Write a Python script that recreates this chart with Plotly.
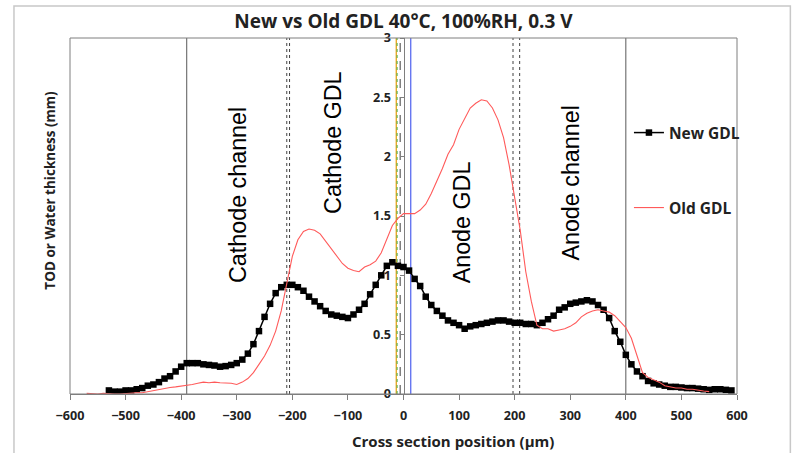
import plotly.graph_objects as go

# ---- data ----
new_x = list(range(-530, 600, 10))
new_y = [0.03, 0.02, 0.02, 0.03, 0.03, 0.04, 0.05, 0.07, 0.08, 0.10,
         0.13, 0.15, 0.19, 0.23, 0.26, 0.26, 0.26, 0.25, 0.245, 0.24,
         0.23, 0.235, 0.245, 0.26, 0.29, 0.34, 0.42, 0.53, 0.65, 0.76,
         0.85, 0.90, 0.92, 0.92, 0.90, 0.87, 0.82, 0.78, 0.74, 0.70,
         0.67, 0.66, 0.65, 0.64, 0.67, 0.71, 0.76, 0.84, 0.92, 1.00,
         1.08, 1.11, 1.08, 1.07, 1.04, 0.97, 0.91, 0.82, 0.75, 0.70,
         0.66, 0.62, 0.60, 0.58, 0.55, 0.57, 0.58, 0.59, 0.60, 0.61,
         0.62, 0.62, 0.61, 0.60, 0.60, 0.59, 0.59, 0.58, 0.60, 0.63,
         0.66, 0.71, 0.73, 0.76, 0.77, 0.78, 0.79, 0.78, 0.75, 0.71,
         0.64, 0.53, 0.44, 0.33, 0.25, 0.19, 0.15, 0.11, 0.09, 0.08,
         0.07, 0.06, 0.06, 0.055, 0.05, 0.05, 0.045, 0.04, 0.035, 0.04,
         0.04, 0.035, 0.03]

old_x = list(range(-570, 560, 10))
old_y = [0.005, 0.0, 0.0, 0.005, 0.0, 0.0, 0.0, 0.005, 0.005, 0.01,
         0.01, 0.02, 0.03, 0.04, 0.05, 0.055, 0.06, 0.065, 0.07, 0.08,
         0.09, 0.10, 0.095, 0.10, 0.095, 0.095, 0.09, 0.08, 0.10, 0.13,
         0.18, 0.25, 0.32, 0.41, 0.53, 0.70, 0.92, 1.16, 1.30, 1.37,
         1.39, 1.38, 1.35, 1.29, 1.23, 1.16, 1.10, 1.06, 1.04, 1.03,
         1.07, 1.09, 1.12, 1.19, 1.30, 1.42, 1.48, 1.52, 1.52, 1.52,
         1.55, 1.60, 1.69, 1.79, 1.90, 2.02, 2.10, 2.23, 2.32, 2.41,
         2.45, 2.48, 2.47, 2.41, 2.31, 2.16, 1.93, 1.65, 1.38, 1.03,
         0.78, 0.58, 0.55, 0.55, 0.53, 0.54, 0.55, 0.57, 0.60, 0.65,
         0.68, 0.70, 0.71, 0.70, 0.69, 0.66, 0.61, 0.56, 0.47, 0.32,
         0.18, 0.14, 0.12, 0.10, 0.07, 0.06, 0.05, 0.05, 0.04, 0.04,
         0.03, 0.025, 0.02]

x_ticks = list(range(-600, 601, 100))
y_ticks = [0, 0.5, 1, 1.5, 2, 2.5, 3]
y_tick_labels = ["0", "0.5", "1", "1.5", "2", "2.5", "3"]

channel_edges = [-390, 400]
gdl_edges = [-210, -205, 197, 209]
membrane_dashed = -6
orange_line = -13
blue_line = 13

regions = ["Cathode channel", "Cathode GDL", "Anode GDL", "Anode channel"]
region_x = [-299, -126, 106, 301]
region_y = [1.68, 2.12, 1.45, 1.78]

TICKFONT = dict(family="Open Sans", size=12.6, color="#222", weight="bold")

fig = go.Figure()
fig.add_trace(go.Scatter(x=new_x, y=new_y, mode="lines+markers", name="New GDL",
                         line=dict(color="black", width=1.5),
                         marker=dict(symbol="square", size=6.5, color="black"),
                         legend="legend", showlegend=True))
fig.add_trace(go.Scatter(x=old_x, y=old_y, mode="lines", name="Old GDL",
                         line=dict(color="#ff5a5a", width=1.1),
                         legend="legend2", showlegend=True))

shapes = []
for xv in channel_edges:
    shapes.append(dict(type="line", xref="x", yref="paper", x0=xv, x1=xv, y0=0, y1=1,
                       line=dict(color="#595959", width=1), layer="below"))
for xv in gdl_edges:
    shapes.append(dict(type="line", xref="x", yref="paper", x0=xv, x1=xv, y0=0, y1=1,
                       line=dict(color="#404040", width=1, dash="dot"), layer="below"))
shapes.append(dict(type="line", xref="x", yref="paper", x0=membrane_dashed, x1=membrane_dashed,
                   y0=0, y1=1, line=dict(color="#404040", width=1, dash="dash"), layer="below"))
shapes.append(dict(type="line", xref="x", yref="paper", x0=orange_line, x1=orange_line,
                   y0=0, y1=1, line=dict(color="#e8a317", width=1.3), layer="below"))
shapes.append(dict(type="line", xref="x", yref="paper", x0=orange_line + 1.5, x1=orange_line + 1.5,
                   y0=0, y1=1, line=dict(color="#4caf50", width=1, dash="dot"), layer="below"))
shapes.append(dict(type="line", xref="x", yref="paper", x0=blue_line, x1=blue_line,
                   y0=0, y1=1, line=dict(color="#5b6cf0", width=1.3), layer="below"))
# plot frame
shapes.append(dict(type="rect", xref="paper", yref="paper", x0=0, x1=1, y0=0, y1=1,
                   line=dict(color="#7f7f7f", width=1), layer="above"))
# chart-area border
shapes.append(dict(type="rect", xref="paper", yref="paper", x0=-0.084, x1=1.08, y0=-0.3, y1=1.09,
                   line=dict(color="#c8c8c8", width=1.5), layer="below"))

annotations = []
for txt, ax, ay in zip(regions, region_x, region_y):
    annotations.append(dict(text=txt, x=ax, y=ay, xref="x", yref="y", textangle=-90,
                            showarrow=False, xanchor="center", yanchor="middle",
                            font=dict(family="Liberation Sans", size=23.3, color="black")))
annotations.append(dict(text="TOD or Water thickness (mm)", x=-0.030, y=0.574, xref="paper",
                        yref="paper", textangle=-90, showarrow=False,
                        xanchor="center", yanchor="middle",
                        font=dict(family="Open Sans", size=13.5, color="#222", weight="bold")))
annotations.append(dict(text="Cross section position (µm)", x=0.574, y=-0.131, xref="paper",
                        yref="paper", showarrow=False, xanchor="center", yanchor="middle",
                        font=dict(family="Open Sans", size=15, color="#222", weight="bold")))

fig.update_layout(
    width=797, height=453,
    margin=dict(l=70, r=60, t=38, b=59),
    paper_bgcolor="white", plot_bgcolor="white",
    showlegend=True,
    title=dict(text="New vs Old GDL 40°C, 100%RH, 0.3 V", x=0.5, xref="paper", xanchor="center",
               y=1 - 21 / 453, yref="container", yanchor="middle",
               font=dict(family="Open Sans", size=19, color="#222", weight="bold")),
    xaxis=dict(range=[-600, 600], tickvals=x_ticks, showgrid=False, zeroline=False,
               showline=True, linecolor="#7f7f7f", ticks="outside", ticklen=5, tickcolor="#7f7f7f",
               tickfont=TICKFONT, ticklabelstandoff=5),
    yaxis=dict(range=[0, 3], tickvals=y_ticks, ticktext=y_tick_labels, anchor="free", position=0.5,
               showgrid=False, zeroline=False, showline=True, linecolor="#7f7f7f",
               ticks="outside", ticklen=4, tickcolor="#7f7f7f", tickfont=TICKFONT,
               ticklabelstandoff=6, layer="below traces"),
    shapes=shapes,
    annotations=annotations,
    legend=dict(x=0.838, y=(394 - 133) / 356, xanchor="left", yanchor="middle",
                bgcolor="rgba(0,0,0,0)", font=dict(family="Open Sans", size=15.5, color="#222", weight="bold")),
    legend2=dict(x=0.838, y=(394 - 208) / 356, xanchor="left", yanchor="middle",
                 bgcolor="rgba(0,0,0,0)", font=dict(family="Open Sans", size=15.5, color="#222", weight="bold")),
)

fig.write_html("out.html")
